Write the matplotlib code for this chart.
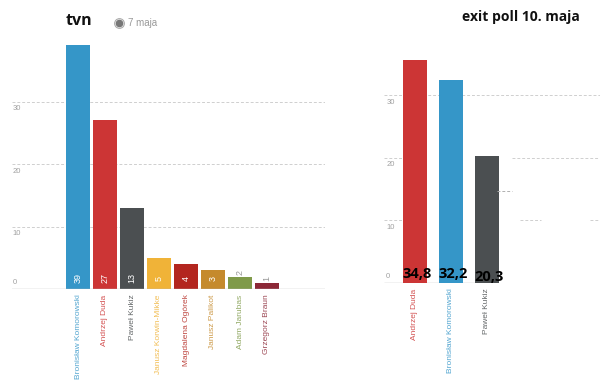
import matplotlib.pyplot as plt

# ---- dane ----
tvn_names = ['Bronisław Komorowski', 'Andrzej Duda', 'Paweł Kukiz', 'Janusz Korwin-Mikke',
             'Magdalena Ogórek', 'Janusz Palikot', 'Adam Jarubas', 'Grzegorz Braun']
tvn_values = [39, 27, 13, 5, 4, 3, 2, 1]
tvn_colors = ['#3596c8', '#cc3535', '#4b4f51', '#f0b338', '#b3261f', '#c58a2c', '#7f9a49', '#8c2837']

exit_names = ['Andrzej Duda', 'Bronisław Komorowski', 'Paweł Kukiz']
exit_values = [35.6, 32.3, 20.3]          # wysokosc slupkow
exit_labels = ['34,8', '32,2', '20,3']
exit_colors = ['#cc3535', '#3596c8', '#4b4f51']

W, H = 600, 389
fig = plt.figure(figsize=(W / 100, H / 100), dpi=100)
fig.patch.set_facecolor('white')


def rect(x0, x1, ytop, ybot):
    return [x0 / W, 1 - ybot / H, (x1 - x0) / W, (ybot - ytop) / H]


grid_c = '#cfcfcf'
tick_c = '#a0a0a0'
narrow = 'Liberation Sans'
dash = (0, (3, 2))

# ---- lewy wykres (tvn) ----
ax1 = fig.add_axes(rect(12, 325, 30, 289))
ax1.set_ylim(0, 259 / 6.25)
ax1.set_xlim((12 - 78) / 27, (325 - 78) / 27)
x1 = list(range(len(tvn_values)))
ax1.bar(x1, tvn_values, width=0.9, color=tvn_colors, zorder=2)
for g in [10, 20, 30]:
    ax1.axhline(g, color=grid_c, lw=0.7, ls=dash, zorder=0)
    ax1.text(0.003, g - 0.6, str(g), transform=ax1.get_yaxis_transform(),
             fontsize=5.5, color=tick_c, va='top', ha='left', family=narrow)
ax1.axhline(0, color='#bdbdbd', lw=1, zorder=3)
ax1.text(0.003, 0.5, '0', transform=ax1.get_yaxis_transform(),
         fontsize=5.5, color=tick_c, va='bottom', ha='left', family=narrow)
for xi, v in zip(x1, tvn_values):
    if v >= 3:
        ax1.text(xi, 1.7, str(v), rotation=90, color='white', fontsize=6.5,
                 ha='center', va='center', family=narrow, zorder=4)
    else:
        ax1.text(xi, v + 0.25, str(v), rotation=90, color='#999999', fontsize=6.5,
                 ha='center', va='bottom', family=narrow, zorder=4)
ax1.set_xticks(x1)
ax1.set_xticklabels(tvn_names, rotation=90, fontsize=6, family=narrow)
for lab, c in zip(ax1.get_xticklabels(), tvn_colors):
    lab.set_color(c)
    lab.set_alpha(0.85)
ax1.tick_params(axis='x', length=0, pad=4)
ax1.set_yticks([])
for s in ax1.spines.values():
    s.set_visible(False)

# ---- prawy wykres (exit poll) ----
ax2 = fig.add_axes(rect(384, 600, 40, 283))
ax2.set_ylim(0, 243 / 6.27)
ax2.set_xlim((384 - 415) / 36, (600 - 415) / 36)
x2 = list(range(len(exit_values)))
ax2.bar(x2, exit_values, width=0.69, color=exit_colors, zorder=2)
ax2.axhline(30, color=grid_c, lw=0.7, ls=dash, zorder=0)
ax2.hlines([20, 20], [-0.861, 2.69], [-0.35, 5.2], color=grid_c, lw=0.7, ls=dash, zorder=0)
ax2.hlines([10, 10, 10], [-0.861, 2.92, 4.85], [-0.35, 3.5, 5.2], color=grid_c, lw=0.7, ls=dash, zorder=0)
ax2.hlines([14.7], [2.27], [2.69], color='#b0b0b0', lw=0.7, ls=dash, zorder=3)
ax2.hlines([0], [-0.861], [1.67], color='#bdbdbd', lw=1, zorder=1)
for g in [10, 20, 30]:
    ax2.text(0.01, g - 0.6, str(g), transform=ax2.get_yaxis_transform(),
             fontsize=5.5, color=tick_c, va='top', ha='left', family=narrow)
ax2.text(0.01, 0.5, '0', transform=ax2.get_yaxis_transform(),
         fontsize=5.5, color=tick_c, va='bottom', ha='left', family=narrow)
for xi, lab in zip(x2, exit_labels):
    ax2.text(xi + 0.05, 0.3 if xi < 2 else -0.15, lab, fontsize=10.5, fontweight='bold',
             family='Open Sans', ha='center', va='bottom', color='black', zorder=5)
ax2.set_xticks(x2)
ax2.set_xticklabels(exit_names, rotation=90, fontsize=6, family=narrow)
for lab, c in zip(ax2.get_xticklabels(), exit_colors):
    lab.set_color(c)
    lab.set_alpha(0.85)
ax2.tick_params(axis='x', length=0, pad=4)
ax2.set_yticks([])
for s in ax2.spines.values():
    s.set_visible(False)

# ---- tytuly ----
ax0 = fig.add_axes([0, 0, 1, 1], zorder=-1)
ax0.set_xlim(0, W)
ax0.set_ylim(H, 0)
ax0.axis('off')
ax0.text(66, 21, 'tvn', fontsize=11.5, fontweight='bold', family='Open Sans',
         ha='left', va='center', color='#111111')
ax0.plot([119], [23], 'o', ms=7, mfc='white', mec='#aaaaaa', mew=0.8)
ax0.plot([119], [23], 'o', ms=4.5, mfc='#777777', mec='#777777')
ax0.text(128, 23, '7 maja', fontsize=7, color='#999999', family=narrow,
         ha='left', va='center')
ax0.text(462, 17, 'exit poll 10. maja', fontsize=10, fontweight='bold',
         family='Open Sans', ha='left', va='center', color='#111111')

fig.savefig('out.png', dpi=100, facecolor='white')
